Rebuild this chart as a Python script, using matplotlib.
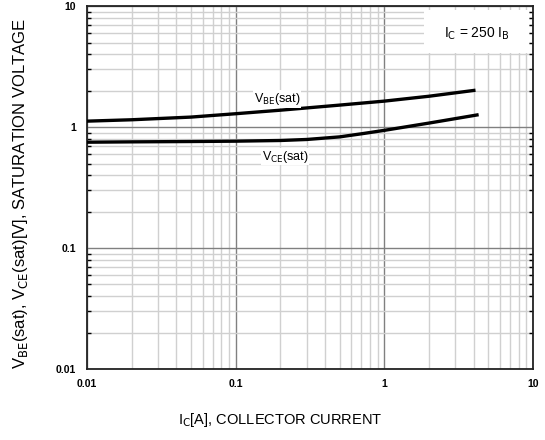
import numpy as np
import matplotlib
matplotlib.use("Agg")
import matplotlib.pyplot as plt
from matplotlib.ticker import LogLocator, NullFormatter, FixedLocator, FixedFormatter
from matplotlib.patches import Rectangle

plt.rcParams['font.family'] = ['Liberation Sans', 'DejaVu Sans']

# Saturation voltage vs collector current (Ic = 250 Ib)
ic_vbe = [0.01, 0.02, 0.05, 0.1, 0.2, 0.5, 1.0, 2.0, 4.0]
vbe_sat = [1.12, 1.15, 1.21, 1.29, 1.38, 1.52, 1.64, 1.80, 2.01]

ic_vce = [0.01, 0.02, 0.05, 0.1, 0.2, 0.3, 0.5, 0.7, 1.0, 2.0, 4.2]
vce_sat = [0.75, 0.755, 0.76, 0.765, 0.775, 0.79, 0.83, 0.88, 0.94, 1.08, 1.26]

xticks = [0.01, 0.1, 1, 10]
xlabels = ['0.01', '0.1', '1', '10']
yticks = [0.01, 0.1, 1, 10]
ylabels = ['0.01', '0.1', '1', '10']

fig = plt.figure(figsize=(5.45, 4.4), dpi=100)
ax = fig.add_axes([0.1596, 0.1614, 0.8184, 0.8246])
ax.set_xscale('log')
ax.set_yscale('log')
ax.set_xlim(0.01, 10)
ax.set_ylim(0.01, 10)

# grid: light minor lines, darker decade lines
ax.xaxis.set_minor_locator(LogLocator(base=10, subs=np.arange(2, 10), numticks=20))
ax.yaxis.set_minor_locator(LogLocator(base=10, subs=np.arange(2, 10), numticks=20))
ax.xaxis.set_minor_formatter(NullFormatter())
ax.yaxis.set_minor_formatter(NullFormatter())
ax.grid(which='minor', color='#d0d0d0', linewidth=1.0, zorder=0)
ax.grid(which='major', color='#808080', linewidth=1.0, zorder=0)

ax.xaxis.set_major_locator(FixedLocator(xticks))
ax.xaxis.set_major_formatter(FixedFormatter(xlabels))
ax.yaxis.set_major_locator(FixedLocator(yticks))
ax.yaxis.set_major_formatter(FixedFormatter(ylabels))

ax.tick_params(axis='x', which='both', length=0, labelsize=7.5, pad=7)
ax.tick_params(axis='y', which='major', length=0, labelsize=7.5, pad=8)
ax.tick_params(axis='y', which='minor', direction='in', length=3, width=1.0,
               color='black', left=True, right=True)
for lab in ax.get_xticklabels() + ax.get_yticklabels():
    lab.set_fontweight('bold')

for s in ax.spines.values():
    s.set_linewidth(1.3)
    s.set_color('#222222')

ax.plot(ic_vbe, vbe_sat, color='black', linewidth=2.4, zorder=3)
ax.plot(ic_vce, vce_sat, color='black', linewidth=2.4, zorder=3)

ax.text(0.19, 1.47, r'V$_{\rm BE}$(sat)', fontsize=9, ha='center', va='bottom', zorder=4,
        bbox=dict(facecolor='white', edgecolor='none', pad=0.5))
ax.text(0.215, 0.665, r'V$_{\rm CE}$(sat)', fontsize=9, ha='center', va='top', zorder=4,
        bbox=dict(facecolor='white', edgecolor='none', pad=0.5))

# condition box in the upper right corner (blank background)
ax.add_patch(Rectangle((0.755, 0.87), 0.235, 0.12, transform=ax.transAxes,
                       facecolor='white', edgecolor='none', zorder=2))
ax.text(0.875, 0.925, r'I$_{\rm C}$ = 250 I$_{\rm B}$', transform=ax.transAxes,
        fontsize=10, ha='center', va='center', zorder=4)

fig.text(0.514, 0.045, r'I$_{\rm C}$[A], COLLECTOR CURRENT', fontsize=10.5,
         ha='center', va='center')
fig.text(0.037, 0.56, r'V$_{\rm BE}$(sat), V$_{\rm CE}$(sat)[V], SATURATION VOLTAGE',
         fontsize=12, ha='center', va='center', rotation=90)

fig.savefig('out.png', dpi=100)
